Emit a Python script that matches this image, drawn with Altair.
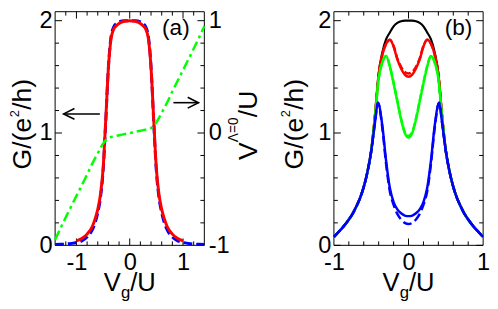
import altair as alt
import pandas as pd

FONT = "Liberation Sans"
W, H = 152, 238          # size of one panel's plot area
BX = 284                 # left edge of panel (b), in the plot's pixel frame
TOTAL_W = BX + W

# ---------------- panel (a) data ----------------
a_red_x = [-1.0, -0.9, -0.8, -0.7, -0.65, -0.6, -0.55, -0.5, -0.45, -0.4, -0.35, -0.3, -0.25, -0.2, -0.1, 0.0,
           0.1, 0.2, 0.25, 0.3, 0.35, 0.4, 0.45, 0.5, 0.55, 0.6, 0.65, 0.7, 0.8, 0.9, 1.0]
a_red_g = [0.04, 0.06, 0.10, 0.17, 0.235, 0.32, 0.45, 0.68, 1.12, 1.58, 1.84, 1.925, 1.955, 1.975, 1.995, 2.0,
           1.995, 1.975, 1.955, 1.925, 1.84, 1.58, 1.12, 0.68, 0.45, 0.32, 0.235, 0.17, 0.10, 0.06, 0.04]

a_blue_x = [-1.4, -1.3, -1.2, -1.1, -1.0, -0.9, -0.8, -0.7, -0.65, -0.6, -0.55, -0.5, -0.45, -0.4, -0.35, -0.3,
            -0.25, -0.2, -0.1, 0.0, 0.1, 0.2, 0.25, 0.3, 0.35, 0.4, 0.45, 0.5, 0.55, 0.6, 0.65, 0.7, 0.8, 0.9,
            1.0, 1.1, 1.2, 1.3, 1.4]
a_blue_g = [0.007, 0.009, 0.012, 0.017, 0.025, 0.04, 0.075, 0.14, 0.2, 0.29, 0.42, 0.66, 1.10, 1.59, 1.86, 1.945,
            1.975, 1.99, 2.0, 2.0, 2.0, 1.99, 1.975, 1.945, 1.86, 1.59, 1.10, 0.66, 0.42, 0.29, 0.2, 0.14, 0.075,
            0.04, 0.025, 0.017, 0.012, 0.009, 0.007]

a_green_x = [-1.4, -1.2, -1.0, -0.8, -0.7, -0.6, -0.55, -0.5, -0.45, -0.4, -0.3, -0.2, -0.1, 0.0,
             0.1, 0.2, 0.3, 0.4, 0.45, 0.5, 0.55, 0.6, 0.7, 0.8, 1.0, 1.2, 1.4]
a_green_v = [-0.95, -0.75, -0.56, -0.37, -0.27, -0.18, -0.135, -0.095, -0.065, -0.045, -0.03, -0.02, -0.01, 0.0,
             0.01, 0.02, 0.03, 0.045, 0.065, 0.095, 0.135, 0.18, 0.27, 0.37, 0.56, 0.75, 0.95]

arrow_tail_x = [-0.56, 0.82]
arrow_tip_x = [-1.24, 1.29]
arrow_g = [1.17, 1.27]

# ---------------- panel (b) data ----------------
b_x = [-1.0, -0.95, -0.9, -0.85, -0.8, -0.75, -0.7, -0.65, -0.6, -0.55, -0.5, -0.45, -0.4, -0.35, -0.3, -0.25,
       -0.2, -0.15, -0.1, -0.05, 0.0, 0.05, 0.1, 0.15, 0.2, 0.25, 0.3, 0.35, 0.4, 0.45, 0.5, 0.55, 0.6, 0.65,
       0.7, 0.75, 0.8, 0.85, 0.9, 0.95, 1.0]
b_black = [0.075, 0.11, 0.145, 0.185, 0.23, 0.28, 0.345, 0.42, 0.52, 0.655, 0.84, 1.15, 1.53, 1.72, 1.835, 1.895,
           1.95, 1.98, 1.995, 2.0, 2.0, 2.0, 1.995, 1.98, 1.95, 1.895, 1.835, 1.72, 1.53, 1.15, 0.84, 0.655, 0.52,
           0.42, 0.345, 0.28, 0.23, 0.185, 0.145, 0.11, 0.075]
b_red = [0.075, 0.11, 0.145, 0.185, 0.23, 0.28, 0.345, 0.42, 0.52, 0.655, 0.84, 1.15, 1.52, 1.70, 1.795, 1.83,
         1.77, 1.655, 1.575, 1.52, 1.50, 1.52, 1.575, 1.655, 1.77, 1.83, 1.795, 1.70, 1.52, 1.15, 0.84, 0.655, 0.52,
         0.42, 0.345, 0.28, 0.23, 0.185, 0.145, 0.11, 0.075]
b_red_d = [0.075, 0.11, 0.145, 0.185, 0.23, 0.28, 0.345, 0.42, 0.52, 0.655, 0.84, 1.15, 1.52, 1.70, 1.795, 1.83,
           1.775, 1.665, 1.59, 1.545, 1.53, 1.545, 1.59, 1.665, 1.775, 1.83, 1.795, 1.70, 1.52, 1.15, 0.84, 0.655,
           0.52, 0.42, 0.345, 0.28, 0.23, 0.185, 0.145, 0.11, 0.075]
b_green = [0.075, 0.11, 0.145, 0.185, 0.23, 0.28, 0.345, 0.42, 0.52, 0.655, 0.84, 1.14, 1.49, 1.63, 1.685, 1.59,
           1.44, 1.28, 1.12, 1.0, 0.96, 1.0, 1.12, 1.28, 1.44, 1.59, 1.685, 1.63, 1.49, 1.14, 0.84, 0.655, 0.52,
           0.42, 0.345, 0.28, 0.23, 0.185, 0.145, 0.11, 0.075]
b_green_d = [0.075, 0.11, 0.145, 0.185, 0.23, 0.28, 0.345, 0.42, 0.52, 0.655, 0.84, 1.13, 1.48, 1.63, 1.685, 1.595,
             1.45, 1.29, 1.13, 1.01, 0.975, 1.01, 1.13, 1.29, 1.45, 1.595, 1.685, 1.63, 1.48, 1.13, 0.84, 0.655,
             0.52, 0.42, 0.345, 0.28, 0.23, 0.185, 0.145, 0.11, 0.075]
b_blue_x = [-1.0, -0.95, -0.9, -0.85, -0.8, -0.75, -0.7, -0.65, -0.6, -0.55, -0.5, -0.45, -0.41, -0.35, -0.3,
            -0.25, -0.2, -0.15, -0.1, -0.05, 0.0, 0.05, 0.1, 0.15, 0.2, 0.25, 0.3, 0.35, 0.41, 0.45, 0.5, 0.55,
            0.6, 0.65, 0.7, 0.75, 0.8, 0.85, 0.9, 0.95, 1.0]
b_blue = [0.075, 0.11, 0.145, 0.185, 0.23, 0.28, 0.345, 0.42, 0.52, 0.655, 0.84, 1.09, 1.27, 1.06, 0.75, 0.51,
          0.385, 0.32, 0.285, 0.265, 0.26, 0.265, 0.285, 0.32, 0.385, 0.51, 0.75, 1.06, 1.27, 1.09, 0.84, 0.655,
          0.52, 0.42, 0.345, 0.28, 0.23, 0.185, 0.145, 0.11, 0.075]
b_blue_d = [0.075, 0.11, 0.145, 0.185, 0.23, 0.28, 0.345, 0.42, 0.52, 0.655, 0.84, 1.09, 1.27, 1.04, 0.72, 0.48,
            0.36, 0.28, 0.23, 0.20, 0.19, 0.20, 0.23, 0.28, 0.36, 0.48, 0.72, 1.04, 1.27, 1.09, 0.84, 0.655,
            0.52, 0.42, 0.345, 0.28, 0.23, 0.185, 0.145, 0.11, 0.075]

# ---------------- tick positions ----------------
a_x_major = [-1, 0, 1]
a_x_minor = [-1.2, -0.8, -0.6, -0.4, -0.2, 0.2, 0.4, 0.6, 0.8, 1.2]
b_x_major = [0]
b_x_minor = [-0.8, -0.6, -0.4, -0.2, 0.2, 0.4, 0.6, 0.8]
y_major = [0, 1, 2]
y_minor = [0.2, 0.4, 0.6, 0.8, 1.2, 1.4, 1.6, 1.8]
x_tick_labels = [-1, 0, 1]
g_tick_labels = [0, 1, 2]
v_tick_labels = [-1, 0, 1]

# ---------------- scales / axes ----------------
xa = alt.Scale(domain=[-1.4, 1.4], range=[0, W], nice=False, zero=False)
xb = alt.Scale(domain=[-1.0, 1.0], range=[BX, BX + W], nice=False, zero=False)
yG = alt.Scale(domain=[0, 2.08], nice=False, zero=False)
yV = alt.Scale(domain=[-1, 1.08], nice=False, zero=False)

LBL = "'' + datum.value"
ax_xa = alt.Axis(orient="bottom", values=x_tick_labels, title=None, labelExpr=LBL, labelFlush=False, labelPadding=6)
ax_xb = alt.Axis(orient="bottom", values=x_tick_labels, title=None, labelExpr=LBL, labelFlush=False, labelPadding=6)
ax_ga = alt.Axis(orient="left", values=g_tick_labels, title=None, labelExpr=LBL, labelPadding=3)
ax_gb = alt.Axis(orient="left", values=g_tick_labels, title=None, labelExpr=LBL, labelPadding=3, offset=-BX)
ax_v = alt.Axis(orient="right", values=v_tick_labels, title=None, labelExpr=LBL, labelPadding=4, offset=-BX)

ONE = pd.DataFrame({"k": [0]})


def line_layer(xs, ys, color, xscale, yscale, dash=None, width=2.5, xaxis=None, yaxis=None):
    df = pd.DataFrame({"x": xs, "y": ys})
    kw = dict(color=color, strokeWidth=width, interpolate="monotone")
    if dash:
        kw["strokeDash"] = dash
    return alt.Chart(df).mark_line(**kw).encode(
        x=alt.X("x:Q", scale=xscale, axis=xaxis),
        y=alt.Y("y:Q", scale=yscale, axis=yaxis),
    )


def rule(df, **enc):
    return alt.Chart(df).mark_rule(color="black", strokeWidth=1).encode(**enc)


def panel_ticks(xmaj, xmin, xscale, x0):
    out = []
    for vals, L in ((xmaj, 7), (xmin, 4)):
        df = pd.DataFrame({"v": vals})
        ex = alt.X("v:Q", scale=xscale, axis=None)
        out.append(rule(df, x=ex, y=alt.value(H), y2=alt.value(H - L)))
        out.append(rule(df, x=ex, y=alt.value(0), y2=alt.value(L)))
    for vals, L in ((y_major, 7), (y_minor, 4)):
        df = pd.DataFrame({"v": vals})
        ey = alt.Y("v:Q", scale=yG, axis=None)
        out.append(rule(df, y=ey, x=alt.value(x0), x2=alt.value(x0 + L)))
        out.append(rule(df, y=ey, x=alt.value(x0 + W), x2=alt.value(x0 + W - L)))
    # frame
    out.append(alt.Chart(ONE).mark_rect(fillOpacity=0, stroke="black", strokeWidth=1).encode(
        x=alt.value(x0), x2=alt.value(x0 + W), y=alt.value(0), y2=alt.value(H)))
    return out


def txt(s, x, y, size, angle=0, align="center"):
    return alt.Chart(ONE).mark_text(
        text=s, font=FONT, fontSize=size, angle=angle, align=align,
        baseline="alphabetic", color="black",
    ).encode(x=alt.value(x), y=alt.value(y))


def xtitle(x0):
    c = x0 + W / 2
    return [
        txt("V", c - 26.4, 285, 26, align="left"),
        txt("g", c - 9.0, 292, 17, align="left"),
        txt("/U", c + 0.5, 285, 26, align="left"),
    ]


def ytitle(xb, yc):
    # "G/(e^2/h)" written bottom-to-top, superscript raised
    fs, fsup = 27, 13
    w1, w2, w3 = 1.945 * fs, 0.556 * fsup, 1.167 * fs
    start = yc + (w1 + w2 + w3) / 2
    return [
        txt("G/(e", xb, start, fs, angle=270, align="left"),
        txt("2", xb - 12.5, start - w1 - 0.5, fsup, angle=270, align="left"),
        txt("/h)", xb, start - w1 - w2 - 1, fs, angle=270, align="left"),
    ]


# invisible anchor that fixes the top-left corner of the drawing's bounds
anchor = alt.Chart(ONE).mark_rule(opacity=0, strokeWidth=0).encode(
    x=alt.value(-52), x2=alt.value(-51), y=alt.value(-8), y2=alt.value(-7))

# ---------------- panel (a) ----------------
arrow_df = pd.DataFrame({"tail": arrow_tail_x, "tip": arrow_tip_x, "g": arrow_g})
shaft = alt.Chart(arrow_df).mark_rule(color="black", strokeWidth=1.6).encode(
    x=alt.X("tail:Q", scale=xa, axis=None), x2="tip:Q",
    y=alt.Y("g:Q", scale=yG, axis=None))
head_l = alt.Chart(arrow_df.iloc[[0]]).mark_point(
    shape="M2,-1L0,0L2,1", size=121, filled=False, color="black", strokeWidth=1.6, opacity=1).encode(
    x=alt.X("tip:Q", scale=xa, axis=None), y=alt.Y("g:Q", scale=yG, axis=None))
head_r = alt.Chart(arrow_df.iloc[[1]]).mark_point(
    shape="M-2,-1L0,0L-2,1", size=121, filled=False, color="black", strokeWidth=1.6, opacity=1).encode(
    x=alt.X("tip:Q", scale=xa, axis=None), y=alt.Y("g:Q", scale=yG, axis=None))

layers_a = [
    *panel_ticks(a_x_major, a_x_minor, xa, 0),
    line_layer(a_blue_x, a_blue_g, "#0000ff", xa, yG, dash=[9, 4], width=3),
    line_layer(a_red_x, a_red_g, "#ff0000", xa, yG, width=3, xaxis=ax_xa, yaxis=ax_ga),
    shaft, head_l, head_r,
    line_layer(a_green_x, a_green_v, "#00ff00", xa, yV, dash=[10, 4, 3, 4], width=2.5, yaxis=ax_v),
    *ytitle(-24.5, 115),
    txt("(a)", 123, 24, 23),
    txt("V", 206, 151, 27, angle=270, align="left"),
    txt("Λ=0", 186, 133, 14, angle=270, align="left"),
    txt("/U", 206, 107.5, 27, angle=270, align="left"),
    *xtitle(0),
]

# ---------------- panel (b) ----------------
layers_b = [
    *panel_ticks(b_x_major, b_x_minor, xb, BX),
    line_layer(b_x, b_black, "#000000", xb, yG, width=2.2, xaxis=ax_xb, yaxis=ax_gb),
    line_layer(b_x, b_red, "#ff0000", xb, yG, width=2.5),
    line_layer(b_x, b_red_d, "#ff0000", xb, yG, dash=[7, 3], width=2.5),
    line_layer(b_x, b_green, "#00ff00", xb, yG, width=2.5),
    line_layer(b_x, b_green_d, "#00ff00", xb, yG, dash=[7, 3], width=2.5),
    line_layer(b_blue_x, b_blue, "#0000ff", xb, yG, width=2.5),
    line_layer(b_blue_x, b_blue_d, "#0000ff", xb, yG, dash=[9, 4], width=2.5),
    *ytitle(BX - 32, 115),
    txt("(b)", BX + 127, 24, 23),
    *xtitle(BX),
]

chart = alt.layer(anchor, *layers_a, *layers_b).resolve_scale(
    x="independent", y="independent"
).properties(
    width=TOTAL_W, height=H,
    padding={"left": -4, "top": -7, "right": 0, "bottom": 0},
).configure_view(stroke="transparent").configure_axis(
    grid=False, domain=False, ticks=False, labelFontSize=24, labelFont=FONT, labelColor="black"
)

chart.save("out.html", embed_options={"renderer": "svg", "actions": False})
